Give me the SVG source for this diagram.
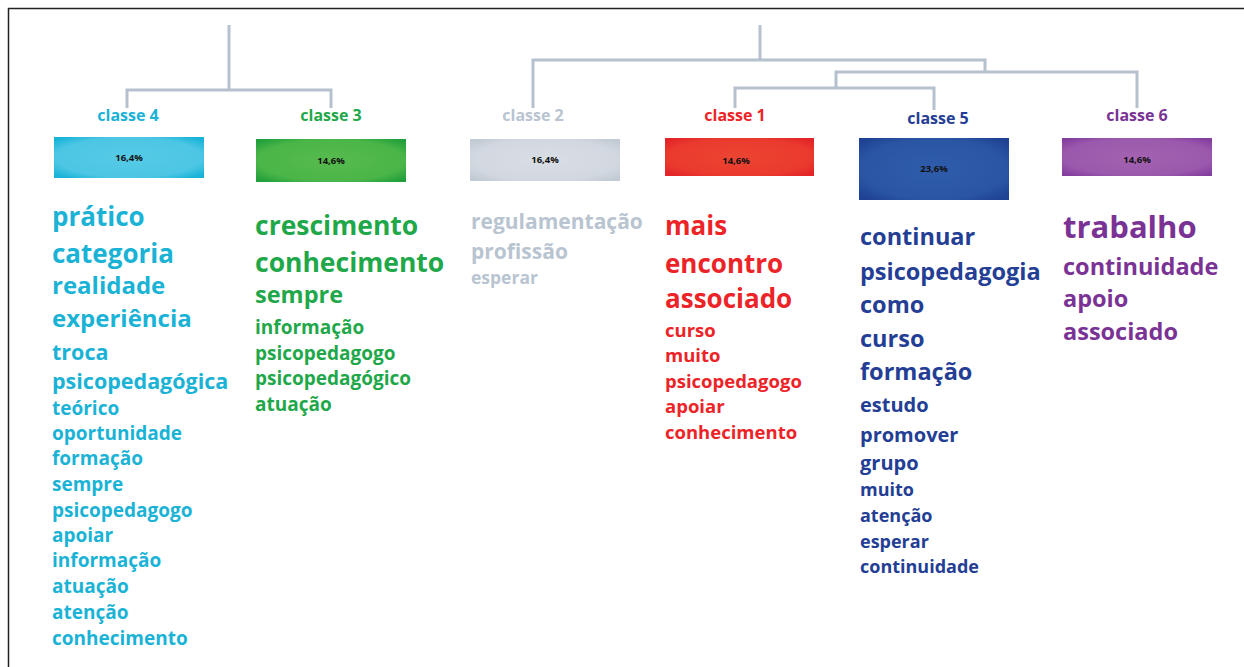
<svg xmlns="http://www.w3.org/2000/svg" width="1244" height="667" viewBox="0 0 1244 667">
<style>
text{font-family:"Open Sans","Noto Sans","Liberation Sans",sans-serif;font-weight:700}
.lbl{font-size:16px;text-anchor:middle}
.pct{font-size:9.5px;text-anchor:middle;fill:#111}
.c4{fill:#1ab3d6}.c3{fill:#1fa84a}.c2{fill:#b9c4d1}.c1{fill:#ec2428}.c5{fill:#233e94}.c6{fill:#7a3394}
.link{fill:none;stroke:#b5c1ce;stroke-width:3}
</style>
<defs>
<radialGradient id="g4" cx="50%" cy="50%" r="65%"><stop offset="0" stop-color="#56cae6"/><stop offset="0.75" stop-color="#4cc6e4"/><stop offset="1" stop-color="#18b3d7"/></radialGradient>
<radialGradient id="g3" cx="50%" cy="50%" r="65%"><stop offset="0" stop-color="#58bb4e"/><stop offset="0.75" stop-color="#4ab548"/><stop offset="1" stop-color="#23a03c"/></radialGradient>
<radialGradient id="g2" cx="50%" cy="50%" r="65%"><stop offset="0" stop-color="#d9dee5"/><stop offset="0.75" stop-color="#d2d8e0"/><stop offset="1" stop-color="#c2cad4"/></radialGradient>
<radialGradient id="g1" cx="50%" cy="50%" r="65%"><stop offset="0" stop-color="#ec4432"/><stop offset="0.75" stop-color="#ea3a2e"/><stop offset="1" stop-color="#e32428"/></radialGradient>
<radialGradient id="g5" cx="50%" cy="50%" r="65%"><stop offset="0" stop-color="#2f5dab"/><stop offset="0.75" stop-color="#2a55a4"/><stop offset="1" stop-color="#1f4294"/></radialGradient>
<radialGradient id="g6" cx="50%" cy="50%" r="65%"><stop offset="0" stop-color="#a462b1"/><stop offset="0.75" stop-color="#9b59ad"/><stop offset="1" stop-color="#863f9f"/></radialGradient>
</defs>
<rect width="1244" height="667" fill="#fff"/>
<path d="M8.5 667 V8.5 H1244" fill="none" stroke="#222" stroke-width="1.5"/>

<g id="connectors">
<path class="link" d="M229 25 V90 M127 108 V90 H331 V108"/>
<path class="link" d="M760 25 V60 M533 108 V60 H985 V72 M836 88 V72 H1137 V108 M735 108 V88 H934 V110"/>
</g>

<g id="classe4">
<text class="lbl c4" x="128" y="121">classe 4</text>
<rect x="54" y="137" width="150" height="41" fill="url(#g4)"/>
<text class="pct" x="129" y="161">16,4%</text>
<g class="c4">
<text x="52" y="226" font-size="26">prático</text>
<text x="52" y="263" font-size="26">categoria</text>
<text x="52" y="294" font-size="24">realidade</text>
<text x="52" y="327" font-size="24">experiência</text>
<text x="52" y="360" font-size="21.5">troca</text>
<text x="52" y="389" font-size="21.5">psicopedagógica</text>
<text x="52" y="415" font-size="19">teórico</text>
<text x="52" y="440" font-size="19">oportunidade</text>
<text x="52" y="465" font-size="19">formação</text>
<text x="52" y="491" font-size="19">sempre</text>
<text x="52" y="517" font-size="19">psicopedagogo</text>
<text x="52" y="542" font-size="19">apoiar</text>
<text x="52" y="567" font-size="19">informação</text>
<text x="52" y="593" font-size="19">atuação</text>
<text x="52" y="619" font-size="19">atenção</text>
<text x="52" y="645" font-size="19">conhecimento</text>
</g>
</g>

<g id="classe3">
<text class="lbl c3" x="331" y="121">classe 3</text>
<rect x="256" y="139" width="150" height="43" fill="url(#g3)"/>
<text class="pct" x="331" y="164">14,6%</text>
<g class="c3">
<text x="255" y="235" font-size="26.5">crescimento</text>
<text x="255" y="272" font-size="26.5">conhecimento</text>
<text x="255" y="303" font-size="23.5">sempre</text>
<text x="255" y="334" font-size="19">informação</text>
<text x="255" y="360" font-size="19">psicopedagogo</text>
<text x="255" y="385" font-size="19">psicopedagógico</text>
<text x="255" y="411" font-size="19">atuação</text>
</g>
</g>

<g id="classe2">
<text class="lbl c2" x="533" y="121">classe 2</text>
<rect x="470" y="139" width="150" height="42" fill="url(#g2)"/>
<text class="pct" x="545" y="163">16,4%</text>
<g class="c2">
<text x="471" y="229" font-size="21">regulamentação</text>
<text x="471" y="259" font-size="21">profissão</text>
<text x="471" y="284" font-size="17.5">esperar</text>
</g>
</g>

<g id="classe1">
<text class="lbl c1" x="735" y="121">classe 1</text>
<rect x="665" y="138" width="149" height="38" fill="url(#g1)"/>
<text class="pct" x="736" y="164">14,6%</text>
<g class="c1">
<text x="665" y="235" font-size="26">mais</text>
<text x="665" y="273" font-size="26">encontro</text>
<text x="665" y="308" font-size="26">associado</text>
<text x="665" y="337" font-size="18.5">curso</text>
<text x="665" y="362" font-size="18.5">muito</text>
<text x="665" y="388" font-size="18.5">psicopedagogo</text>
<text x="665" y="413" font-size="18.5">apoiar</text>
<text x="665" y="439" font-size="18.5">conhecimento</text>
</g>
</g>

<g id="classe5">
<text class="lbl c5" x="938" y="124">classe 5</text>
<rect x="859" y="138" width="150" height="62" fill="url(#g5)"/>
<text class="pct" x="934" y="172">23,6%</text>
<g class="c5">
<text x="860" y="245" font-size="23.5">continuar</text>
<text x="860" y="280" font-size="23.5">psicopedagogia</text>
<text x="860" y="313" font-size="23.5">como</text>
<text x="860" y="347" font-size="23.5">curso</text>
<text x="860" y="380" font-size="23.5">formação</text>
<text x="860" y="412" font-size="20">estudo</text>
<text x="860" y="442" font-size="20">promover</text>
<text x="860" y="470" font-size="20">grupo</text>
<text x="860" y="496" font-size="18">muito</text>
<text x="860" y="522" font-size="18">atenção</text>
<text x="860" y="548" font-size="18">esperar</text>
<text x="860" y="573" font-size="18">continuidade</text>
</g>
</g>

<g id="classe6">
<text class="lbl c6" x="1137" y="121">classe 6</text>
<rect x="1062" y="138" width="150" height="38" fill="url(#g6)"/>
<text class="pct" x="1137" y="163">14,6%</text>
<g class="c6">
<text x="1063" y="238" font-size="31">trabalho</text>
<text x="1063" y="275" font-size="23.5">continuidade</text>
<text x="1063" y="307" font-size="23.5">apoio</text>
<text x="1063" y="340" font-size="23.5">associado</text>
</g>
</g>
</svg>
